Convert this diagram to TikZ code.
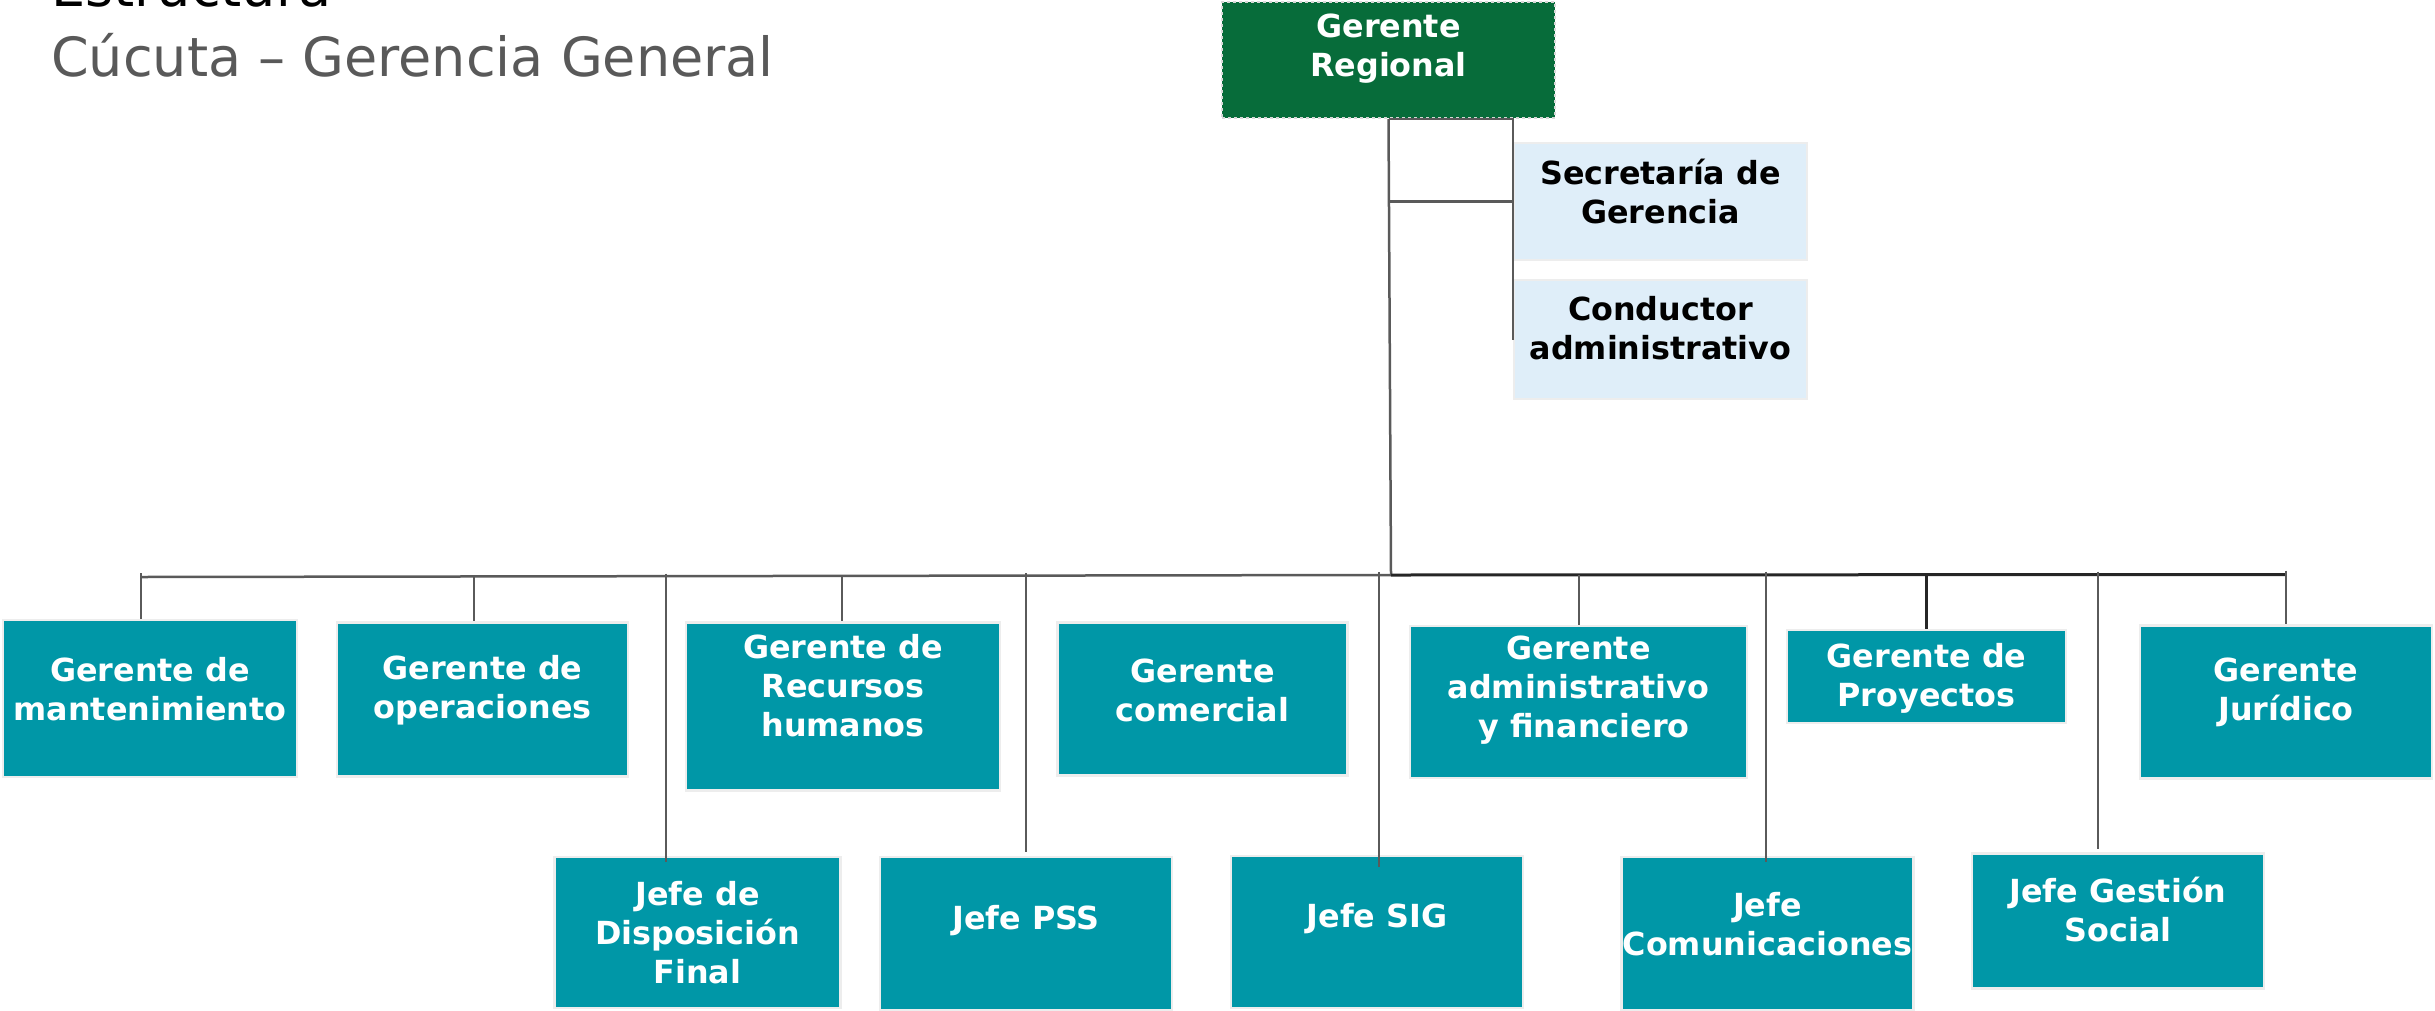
\documentclass[tikz,border=0pt]{standalone}
\usepackage{fontspec}
\setmainfont{DejaVu Sans}
\definecolor{orgteal}{HTML}{0097A7}
\definecolor{orggreen}{HTML}{076C3A}
\definecolor{orgblue}{HTML}{DFEEF9}
\definecolor{orgedge}{HTML}{EDEDED}
\definecolor{orgline}{HTML}{5A5A5A}
\definecolor{orgtitle}{HTML}{595959}
\begin{document}
\begin{tikzpicture}[x=1pt,y=-1pt,
  box/.style={rectangle, inner sep=0pt, fill=orgteal, draw=orgedge, line width=2.5pt},
  lbox/.style={box, fill=orgblue},
  gbox/.style={rectangle, inner sep=0pt, fill=orggreen, draw=gray!30, dashed, line width=2pt},
  txt/.style={align=center, text=white, font=\bfseries\fontsize{31.8}{39}\selectfont, inner sep=0pt},
  dtxt/.style={txt, text=black},
  conn/.style={draw=orgline, line width=2.5pt},
  connd/.style={draw=black!85, line width=3pt}]
\useasboundingbox (0,0) rectangle (2435,1010);
% titles
\node[anchor=base west, inner sep=0pt, font=\fontsize{54}{64}\selectfont, text=black] (t1) at (51,6) {Estructura};
\node[anchor=base west, inner sep=0pt, font=\fontsize{54}{64}\selectfont, text=orgtitle] (t2) at (51,76) {Cúcuta – Gerencia General};
% top
\node[gbox, minimum width=333pt, minimum height=116pt] (gr) at (1388.5,60) {};
\node[txt] (grT) at (1388.5,49) {Gerente\\Regional};
\node[lbox, minimum width=293pt, minimum height=117pt] (sec) at (1660.5,201.5) {};
\node[dtxt] (secT) at (1660.5,192) {Secretaría de\\Gerencia};
\node[lbox, minimum width=293pt, minimum height=119pt] (cond) at (1660.5,339.5) {};
\node[dtxt] (condT) at (1660.5,328) {Conductor\\administrativo};
% first row
\node[box, minimum width=294pt, minimum height=157pt] (mant) at (150,698.5) {};
\node[txt] (mantT) at (150,689) {Gerente de\\mantenimiento};
\node[box, minimum width=291pt, minimum height=154pt] (oper) at (482.5,699.5) {};
\node[txt] (operT) at (482.5,690) {Gerente de\\operaciones};
\node[box, minimum width=314pt, minimum height=168pt] (rrhh) at (843,706.5) {};
\node[txt] (rrhhT) at (843,686) {Gerente de\\Recursos\\humanos};
\node[box, minimum width=290pt, minimum height=153pt] (comer) at (1202.5,699) {};
\node[txt] (comerT) at (1202.5,690) {Gerente\\comercial};
\node[box, minimum width=337pt, minimum height=152pt] (adm) at (1578.5,702) {};
\node[txt] (admT) at (1578.5,690) {Gerente\\administrativo\\\ y financiero};
\node[box, minimum width=279pt, minimum height=93pt] (proy) at (1926.5,676.5) {};
\node[txt] (proyT) at (1926.5,678) {Gerente de\\Proyectos};
\node[box, minimum width=292pt, minimum height=153pt] (jur) at (2286,702) {};
\node[txt] (jurT) at (2286,692) {Gerente\\Jurídico};
% second row
\node[box, minimum width=286pt, minimum height=151pt] (disp) at (697.5,932.5) {};
\node[txt] (dispT) at (697.5,933) {Jefe de\\Disposición\\Final};
\node[box, minimum width=292pt, minimum height=153pt] (pss) at (1026,933.5) {};
\node[txt] (pssT) at (1026,921) {Jefe PSS};
\node[box, minimum width=292pt, minimum height=152pt] (sig) at (1377,932) {};
\node[txt] (sigT) at (1377,919) {Jefe SIG};
\node[box, minimum width=292pt, minimum height=153pt] (comu) at (1767.5,933.5) {};
\node[txt] (comuT) at (1767.5,924) {Jefe\\Comunicaciones};
\node[box, minimum width=292pt, minimum height=135pt] (soc) at (2118,921) {};
\node[txt] (socT) at (2118,909) {Jefe Gestión\\Social};
% connectors: top bracket
\coordinate (brA) at (gr.south -| sec.west);
\coordinate (brB) at (gr.south |- sec.west);
\coordinate (busM) at (1391,575);
\draw[conn] (gr.south) -- (brA) -- (brA |- cond.center);
\draw[conn] (brB) -- (sec.west);
\draw[conn] (gr.south) -- (busM);
% bus
\coordinate (c1) at (141,577);
\coordinate (c2) at (474,577);
\coordinate (c3) at (842,576.5);
\coordinate (c8) at (666,576.5);
\coordinate (c9) at (1026,576);
\coordinate (c10) at (1379,575);
\coordinate (c5) at (1579,574.5);
\coordinate (c11) at (1766,574.5);
\coordinate (c6) at (1926,574.5);
\coordinate (c12) at (2098,574.5);
\coordinate (c7) at (2286,574.5);
\draw[conn] (c1) -- (busM);
\draw[connd] (busM) -- (c7);
\draw[conn] ([yshift=4pt]c1) -- (c1 |- mant.north);
\draw[conn] (c2) -- (c2 |- oper.north);
\draw[conn] (c3) -- (c3 |- rrhh.north);
\draw[conn] (c5) -- (c5 |- adm.north);
\draw[connd] (c6) -- (c6 |- proy.north);
\draw[conn] ([yshift=4pt]c7) -- (c7 |- jur.north);
\draw[conn] ([yshift=3pt]c8) -- ([yshift=-6pt]c8 |- disp.north);
\draw[conn] ([yshift=3pt]c9) -- ([yshift=4pt]c9 |- pss.north);
\draw[conn] ([yshift=3pt]c10) -- ([yshift=-12pt]c10 |- sig.north);
\draw[conn] ([yshift=3pt]c11) -- ([yshift=-6pt]c11 |- comu.north);
\draw[conn] ([yshift=3pt]c12) -- ([yshift=3pt]c12 |- soc.north);
\end{tikzpicture}
\end{document}
